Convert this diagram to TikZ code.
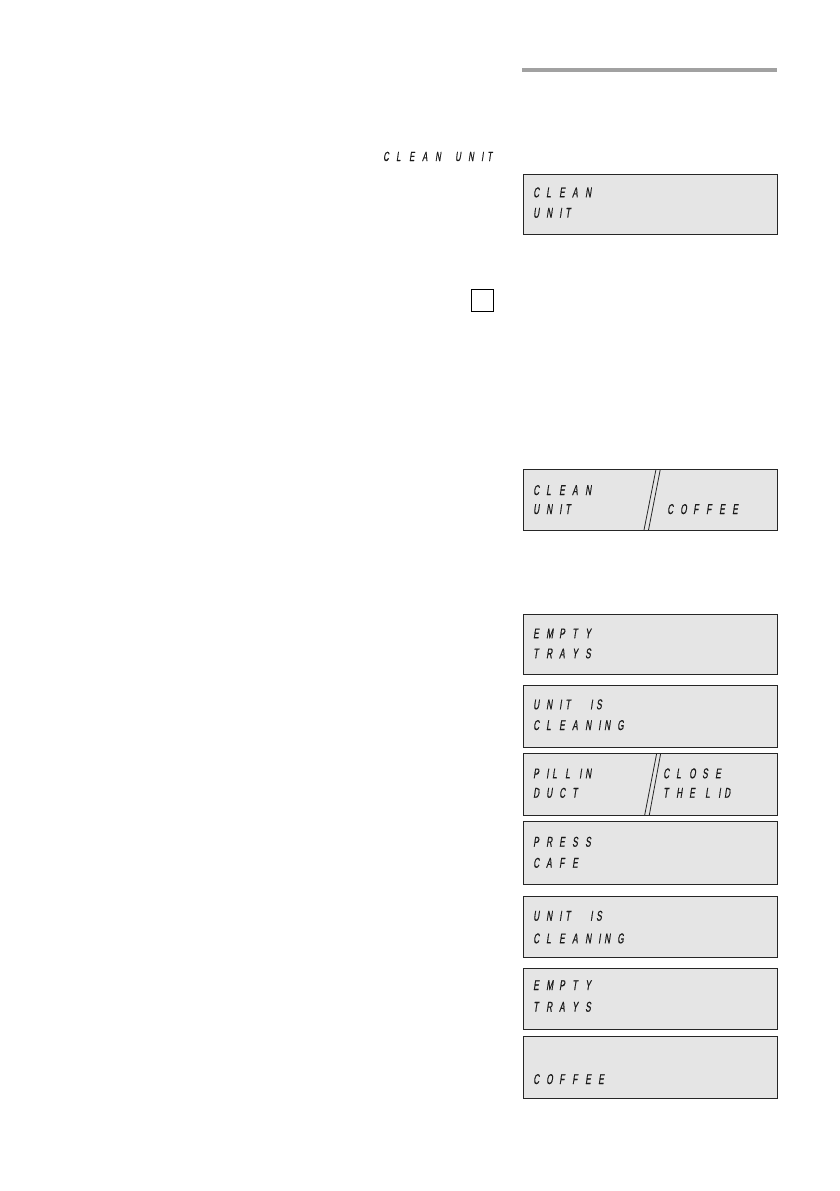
\documentclass[tikz,border=0pt]{standalone}
\usepackage{fontspec}
\newfontfamily\lcdfont[FakeStretch=0.58,FakeSlant=0.15,FakeBold=0.6]{Liberation Sans}
\makeatletter
\def\lcdw#1{\lcd@loop#1\@nil}
\def\lcd@loop#1{\ifx#1\@nil\else\lcd@char{#1}\expandafter\lcd@loop\fi}
\def\lcd@char#1{\if I#1\makebox[6pt][l]{I}\else\makebox[13pt][l]{#1}\fi}
\makeatother
\begin{document}
\begin{tikzpicture}[x=1pt,y=-1pt,
  lcdbox/.style={draw=black!85,fill=black!10,line width=1.1pt,inner sep=0pt,anchor=north west,minimum width=254pt},
  lcdtext/.style={anchor=base west,inner sep=0pt,text=black!90,font=\lcdfont\fontsize{14.2}{16}\selectfont},
  slash/.style={draw=black!85,line width=0.8pt}]
\useasboundingbox (0,0) rectangle (839,1191);
\fill[black!37] (522,68) rectangle (777,72);
\node[lcdtext,font=\lcdfont\fontsize{13.2}{15}\selectfont] (hdr1) at (383,161) {\lcdw{CLEAN}};
\node[lcdtext,font=\lcdfont\fontsize{13.2}{15}\selectfont] (hdr2) at (455,161) {\lcdw{UNIT}};
\node[draw=black,line width=1pt,minimum size=22pt,inner sep=0pt,anchor=north west] (key) at (471,289.3) {};
% box 1
\node[lcdbox,minimum height=60pt] (b1) at (523,174.3) {};
\node[lcdtext] (b1a) at (533,197.3) {\lcdw{CLEAN}};
\node[lcdtext] (b1b) at (533,217.7) {\lcdw{UNIT}};
% box 2
\node[lcdbox,minimum height=60.7pt] (b2) at (523,469.3) {};
\node[lcdtext] (b2a) at (533,495) {\lcdw{CLEAN}};
\node[lcdtext] (b2b) at (533,514) {\lcdw{UNIT}};
\node[lcdtext] (b2c) at (667,514) {\lcdw{COFFEE}};
\coordinate (s2a) at (656,469.3); \coordinate (s2b) at (644,530);
\coordinate (s2c) at (660.3,469.3); \coordinate (s2d) at (648.5,530);
\draw[slash] (s2a) -- (s2b);
\draw[slash] (s2c) -- (s2d);
% box 3
\node[lcdbox,minimum height=60pt] (b3) at (523,614.3) {};
\node[lcdtext] (b3a) at (533,638.3) {\lcdw{EMPTY}};
\node[lcdtext] (b3b) at (533,658.3) {\lcdw{TRAYS}};
% box 4
\node[lcdbox,minimum height=61.4pt] (b4) at (523,685.3) {};
\node[lcdtext] (b4a) at (533,709.3) {\lcdw{UNIT}};
\node[lcdtext] (b4a2) at (590,709.3) {\lcdw{IS}};
\node[lcdtext] (b4b) at (533,730) {\lcdw{CLEANING}};
% box 5
\node[lcdbox,minimum height=61.7pt] (b5) at (523,753.3) {};
\node[lcdtext] (b5a) at (533,778.3) {\lcdw{PILL}};
\node[lcdtext] (b5a2) at (579,778.3) {\lcdw{IN}};
\node[lcdtext] (b5b) at (533,797.7) {\lcdw{DUCT}};
\node[lcdtext] (b5c) at (663,778.3) {\lcdw{CLOSE}};
\node[lcdtext] (b5d) at (663,797.7) {\lcdw{THE}};
\node[lcdtext] (b5d2) at (705,797.7) {\lcdw{LID}};
\coordinate (s5a) at (656.7,753.3); \coordinate (s5b) at (644.7,815);
\coordinate (s5c) at (660.7,753.3); \coordinate (s5d) at (649.3,815);
\draw[slash] (s5a) -- (s5b);
\draw[slash] (s5c) -- (s5d);
% box 6
\node[lcdbox,minimum height=62.7pt] (b6) at (523,821) {};
\node[lcdtext] (b6a) at (533,846.7) {\lcdw{PRESS}};
\node[lcdtext] (b6b) at (533,867.7) {\lcdw{CAFE}};
% box 7
\node[lcdbox,minimum height=61.3pt] (b7) at (523,896) {};
\node[lcdtext] (b7a) at (533,920.7) {\lcdw{UNIT}};
\node[lcdtext] (b7a2) at (590,920.7) {\lcdw{IS}};
\node[lcdtext] (b7b) at (533,943.3) {\lcdw{CLEANING}};
% box 8
\node[lcdbox,minimum height=61.3pt] (b8) at (523,968) {};
\node[lcdtext] (b8a) at (533,990) {\lcdw{EMPTY}};
\node[lcdtext] (b8b) at (533,1011.7) {\lcdw{TRAYS}};
% box 9
\node[lcdbox,minimum height=62pt] (b9) at (523,1036) {};
\node[lcdtext] (b9b) at (533,1084) {\lcdw{COFFEE}};
\end{tikzpicture}
\end{document}
